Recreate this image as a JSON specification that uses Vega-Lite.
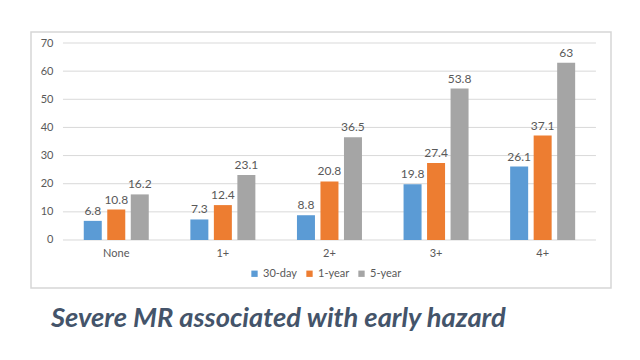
{
  "$schema": "https://vega.github.io/schema/vega-lite/v6.json",
  "width": 580,
  "height": 256,
  "autosize": {"type": "none"},
  "padding": {"left": 31, "top": 32, "right": 29, "bottom": 72},
  "background": "white",
  "config": {
    "view": {"stroke": "#d6d6d6", "strokeWidth": 1.5},
    "font": "Lato",
    "axisY": {
      "offset": -22,
      "title": null,
      "domain": false,
      "ticks": false,
      "grid": false,
      "labelOverlap": false,
      "labelPadding": 0,
      "labelFontSize": 11,
      "labelColor": "#595959"
    },
    "axisX": {
      "offset": -41,
      "title": null,
      "domain": false,
      "ticks": false,
      "grid": false,
      "labelAlign": "center",
      "labelPadding": 0,
      "labelAngle": 0,
      "labelFontSize": 11,
      "labelColor": "#595959"
    }
  },
  "title": {
    "text": "Severe MR associated with early hazard",
    "orient": "bottom",
    "anchor": "start",
    "dx": 20,
    "offset": 17,
    "font": "Lato",
    "fontSize": 27.3,
    "fontStyle": "italic",
    "fontWeight": "bold",
    "color": "#44546A"
  },
  "datasets": {
    "bars": [
      {"Category": "None", "Period": "30-day", "Value": 6.8},
      {"Category": "None", "Period": "1-year", "Value": 10.8},
      {"Category": "None", "Period": "5-year", "Value": 16.2},
      {"Category": "1+", "Period": "30-day", "Value": 7.3},
      {"Category": "1+", "Period": "1-year", "Value": 12.4},
      {"Category": "1+", "Period": "5-year", "Value": 23.1},
      {"Category": "2+", "Period": "30-day", "Value": 8.8},
      {"Category": "2+", "Period": "1-year", "Value": 20.8},
      {"Category": "2+", "Period": "5-year", "Value": 36.5},
      {"Category": "3+", "Period": "30-day", "Value": 19.8},
      {"Category": "3+", "Period": "1-year", "Value": 27.4},
      {"Category": "3+", "Period": "5-year", "Value": 53.8},
      {"Category": "4+", "Period": "30-day", "Value": 26.1},
      {"Category": "4+", "Period": "1-year", "Value": 37.1},
      {"Category": "4+", "Period": "5-year", "Value": 63}
    ],
    "grid": [
      {"v": 0}, {"v": 10}, {"v": 20}, {"v": 30}, {"v": 40}, {"v": 50}, {"v": 60}, {"v": 70}
    ]
  },
  "layer": [
    {
      "data": {"name": "grid"},
      "mark": {"type": "rule", "color": "#d9d9d9", "strokeWidth": 1},
      "encoding": {
        "y": {
          "field": "v",
          "type": "quantitative",
          "scale": {"domain": [-17.06, 73.91], "nice": false, "zero": false},
          "axis": {"values": [0, 10, 20, 30, 40, 50, 60, 70]}
        },
        "x": {
          "datum": "None",
          "type": "nominal",
          "bandPosition": 0,
          "scale": {"domain": ["None", "1+", "2+", "3+", "4+"], "paddingInner": 0, "paddingOuter": 0.2205, "align": 0.68},
          "axis": {"bandPosition": 0.5}
        },
        "x2": {"datum": "4+", "bandPosition": 1}
      }
    },
    {
      "data": {"name": "bars"},
      "mark": {"type": "bar"},
      "encoding": {
        "x": {
          "field": "Category",
          "type": "nominal",
          "sort": ["None", "1+", "2+", "3+", "4+"],
          "axis": {"bandPosition": 0.5}
        },
        "xOffset": {
          "field": "Period",
          "type": "nominal",
          "sort": ["30-day", "1-year", "5-year"],
          "scale": {"paddingInner": 0.234, "paddingOuter": 0.885}
        },
        "y": {
          "field": "Value",
          "type": "quantitative",
          "axis": {"values": [0, 10, 20, 30, 40, 50, 60, 70]}
        },
        "color": {
          "field": "Period",
          "type": "nominal",
          "sort": ["30-day", "1-year", "5-year"],
          "scale": {"domain": ["30-day", "1-year", "5-year"], "range": ["#5B9BD5", "#ED7D31", "#A5A5A5"]},
          "legend": {
            "orient": "none",
            "legendX": 218,
            "legendY": 236,
            "direction": "horizontal",
            "title": null,
            "symbolType": "square",
            "symbolSize": 40,
            "symbolStrokeWidth": 0,
            "labelFontSize": 11,
            "labelColor": "#595959",
            "labelOffset": 3,
            "columnPadding": 6
          }
        }
      }
    },
    {
      "data": {"name": "bars"},
      "mark": {"type": "text", "baseline": "bottom", "dy": -3, "fontSize": 12, "color": "#595959"},
      "encoding": {
        "x": {"field": "Category", "type": "nominal", "sort": ["None", "1+", "2+", "3+", "4+"], "axis": {"bandPosition": 0.5}},
        "xOffset": {"field": "Period", "type": "nominal", "sort": ["30-day", "1-year", "5-year"]},
        "y": {"field": "Value", "type": "quantitative", "axis": {"values": [0, 10, 20, 30, 40, 50, 60, 70]}},
        "text": {"field": "Value", "type": "quantitative"}
      }
    }
  ]
}
